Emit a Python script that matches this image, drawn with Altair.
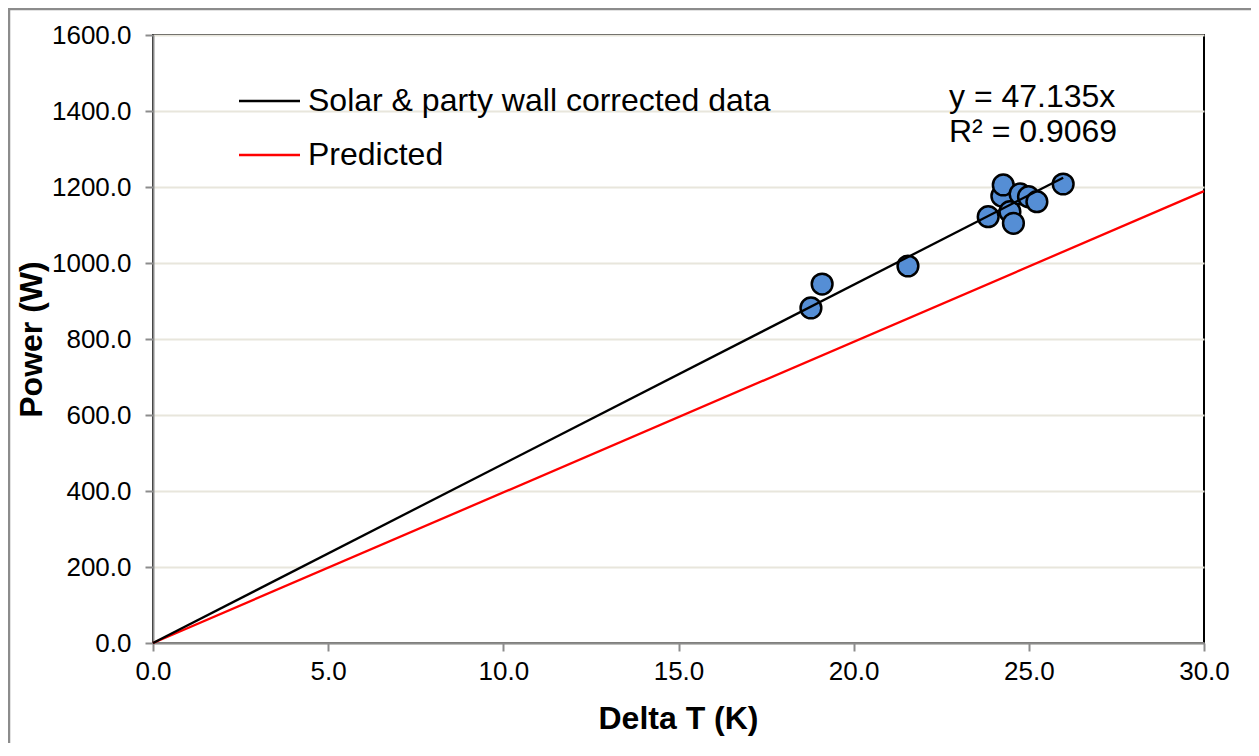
import altair as alt
import pandas as pd

delta_t = [18.78, 19.10, 21.55, 23.84, 24.23, 24.27, 24.46, 24.56, 24.75, 24.99, 25.23, 25.98]
power = [881.6, 944.7, 992.1, 1121.8, 1176.3, 1205.3, 1135.0, 1104.5, 1181.6, 1174.5, 1161.3, 1207.9]

# Linear trendline through origin, y = 47.135x, spanning 0..max(delta_t)
trend_slope = 47.135
trend_x = [0.0, 25.98]
trend_y = [0.0, trend_slope * 25.98]

# Predicted line
pred_x = [0.0, 30.0]
pred_y = [0.0, 1189.0]

x_ticks = [0, 5, 10, 15, 20, 25, 30]
y_ticks = [0, 200, 400, 600, 800, 1000, 1200, 1400, 1600]

legend_labels = ["Solar & party wall corrected data", "Predicted"]
legend_colors = ["#000000", "#FF0000"]
eq_lines = ["y = 47.135x", "R\u00b2 = 0.9069"]

FONT = "Liberation Sans"
GRAY = "#8C8C8C"

pts = pd.DataFrame({"x": delta_t, "y": power})
trend = pd.DataFrame({"x": trend_x, "y": trend_y})
pred = pd.DataFrame({"x": pred_x, "y": pred_y})
one = pd.DataFrame({"a": [0]})

xscale = alt.Scale(domain=[0, 30], nice=False)
yscale = alt.Scale(domain=[0, 1600], nice=False)

xaxis = alt.Axis(
    values=x_ticks, format=".1f", title="Delta T (K)", grid=False,
    labelFontSize=26, labelColor="#000000", labelPadding=7, labelFlush=False,
    tickSize=8, tickColor=GRAY, tickWidth=2,
    domainColor=GRAY, domainWidth=2,
    titleFontSize=32, titleFontWeight="bold", titleColor="#000000",
    titleX=525, titleY=75, titleBaseline="middle", titleAlign="center",
)
yaxis = alt.Axis(
    values=y_ticks, format=".1f", title="Power (W)", grid=True,
    gridColor="#E8E6DC", gridWidth=2,
    labelFontSize=26, labelColor="#000000", labelPadding=14, labelFlush=False,
    tickSize=8, tickColor=GRAY, tickWidth=2,
    domainColor=GRAY, domainWidth=2,
    titleFontSize=32, titleFontWeight="bold", titleColor="#000000",
    titleX=-122, titleY=304, titleAngle=270, titleBaseline="middle", titleAlign="center",
)

pred_line = alt.Chart(pred).mark_line(color="#FF0000", strokeWidth=2.3).encode(
    x=alt.X("x:Q", scale=xscale, axis=xaxis),
    y=alt.Y("y:Q", scale=yscale, axis=yaxis),
)

points = alt.Chart(pts).mark_point(
    shape="circle", filled=True, size=430, fill="#558ED5", fillOpacity=1,
    stroke="#000000", strokeWidth=2.5, opacity=1,
).encode(x=alt.X("x:Q", scale=xscale), y=alt.Y("y:Q", scale=yscale))

trend_line = alt.Chart(trend).mark_line(color="#000000", strokeWidth=2.3).encode(
    x=alt.X("x:Q", scale=xscale), y=alt.Y("y:Q", scale=yscale)
)

# Legend (drawn inside plot area)
legend_layers = []
for i, (lab, col) in enumerate(zip(legend_labels, legend_colors)):
    yy = 66 + 54 * i
    legend_layers.append(
        alt.Chart(one).mark_rule(strokeWidth=2.3, color=col).encode(
            x=alt.value(86), x2=alt.value(147), y=alt.value(yy)
        )
    )
    legend_layers.append(
        alt.Chart(one).mark_text(
            align="left", baseline="middle", fontSize=32, font=FONT,
            color="#000000", text=lab,
        ).encode(x=alt.value(155), y=alt.value(yy))
    )

eq_layers = []
for i, lab in enumerate(eq_lines):
    eq_layers.append(
        alt.Chart(one).mark_text(
            align="left", baseline="middle", fontSize=32, font=FONT,
            color="#000000", text=lab,
        ).encode(x=alt.value(796), y=alt.value(62 + 35 * i))
    )

border = alt.Chart(one).mark_rect(
    filled=False, stroke=GRAY, strokeWidth=2.5, fillOpacity=0
).encode(x=alt.value(-144), x2=alt.value(1130), y=alt.value(-26), y2=alt.value(740))

chart = alt.layer(
    pred_line, points, trend_line, *legend_layers, *eq_layers, border
).properties(
    width=1051, height=608,
    autosize=alt.AutoSizeParams(type="none"),
    padding={"left": 145, "top": 27, "right": 47, "bottom": 100},
).configure(font=FONT).configure_view(stroke="#000000", strokeWidth=2)

chart.save("out.html", embed_options={"renderer": "svg", "actions": False})
